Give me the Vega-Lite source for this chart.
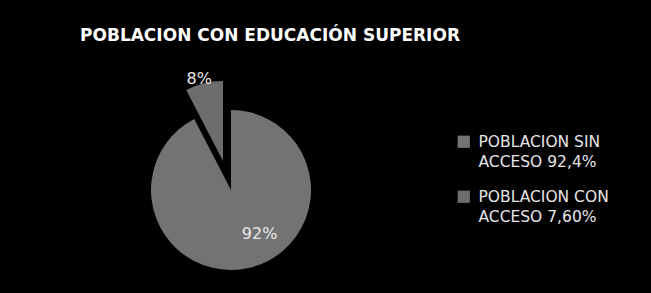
{
  "$schema": "https://vega.github.io/schema/vega-lite/v6.json",
  "autosize": "none",
  "width": 446,
  "height": 116,
  "padding": {"left": 8, "top": 132, "right": 197, "bottom": 45},
  "background": "#000000",
  "title": {
    "text": "POBLACION CON EDUCACIÓN SUPERIOR",
    "font": "DejaVu Sans",
    "fontSize": 17,
    "fontWeight": "bold",
    "color": "#ffffff",
    "offset": 26,
    "dx": 39
  },
  "data": {
    "values": [
      {"categoria": "POBLACION SIN ACCESO 92,4%", "valor": 0.924},
      {"categoria": "POBLACION CON ACCESO 7,60%", "valor": 0.076}
    ]
  },
  "encoding": {
    "theta": {"field": "valor", "type": "quantitative", "stack": true},
    "order": {"field": "valor", "type": "quantitative", "sort": "descending"}
  },
  "layer": [
    {
      "mark": {"type": "arc", "radius": 80, "stroke": null},
      "encoding": {
        "color": {
          "field": "categoria",
          "type": "nominal",
          "scale": {
            "domain": ["POBLACION SIN ACCESO 92,4%", "POBLACION CON ACCESO 7,60%"],
            "range": ["#737373", "#6d6d6d"]
          },
          "legend": {
            "title": null,
            "orient": "right",
            "offset": 0,
            "padding": 2,
            "symbolType": "square",
            "symbolSize": 150,
            "symbolStrokeWidth": 0,
            "labelFont": "DejaVu Sans",
            "labelFontSize": 15.5,
            "labelColor": "#e6e6e6",
            "labelOffset": 7,
            "labelLimit": 300,
            "rowPadding": 18,
            "labelExpr": "[slice(datum.label, 0, indexof(datum.label, ' ACCESO')), slice(datum.label, indexof(datum.label, ' ACCESO') + 1)]"
          }
        },
        "opacity": {"condition": {"test": "datum.valor > 0.5", "value": 1}, "value": 0}
      }
    },
    {
      "mark": {"type": "arc", "radius": 80, "stroke": null, "xOffset": -8, "yOffset": -29},
      "encoding": {
        "color": {"field": "categoria", "type": "nominal"},
        "opacity": {"condition": {"test": "datum.valor < 0.5", "value": 1}, "value": 0}
      }
    },
    {
      "mark": {"type": "text", "radius": 45, "font": "DejaVu Sans", "fontSize": 16, "color": "#e8e8e8", "dx": 18},
      "encoding": {
        "text": {"field": "valor", "type": "quantitative", "format": ".0%"},
        "opacity": {"condition": {"test": "datum.valor > 0.5", "value": 1}, "value": 0}
      }
    },
    {
      "mark": {"type": "text", "radius": 84, "font": "DejaVu Sans", "fontSize": 16, "color": "#e8e8e8", "dx": -4, "xOffset": -8, "yOffset": -29},
      "encoding": {
        "text": {"field": "valor", "type": "quantitative", "format": ".0%"},
        "opacity": {"condition": {"test": "datum.valor < 0.5", "value": 1}, "value": 0}
      }
    }
  ],
  "config": {
    "view": {"stroke": null},
    "style": {"guide-label": {"lineHeight": 20}}
  }
}
